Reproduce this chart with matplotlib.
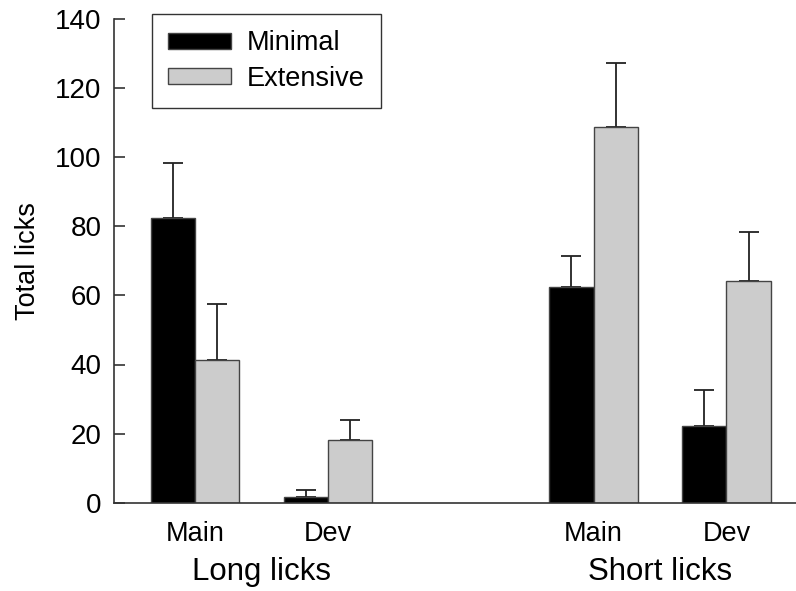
import matplotlib
matplotlib.use("Agg")
import matplotlib.pyplot as plt
import matplotlib.transforms as mtrans
import numpy as np

plt.rcParams['font.family'] = ['Liberation Sans', 'DejaVu Sans']

groups = ["Long licks", "Short licks"]
conditions = ["Main", "Dev", "Main", "Dev"]
group_centers = [0, 3, 9, 12]
series_names = ["Minimal", "Extensive"]
minimal = [82.3, 1.7, 62.3, 22.3]
minimal_err = [15.9, 2.0, 9.1, 10.3]
extensive = [41.3, 18.1, 108.8, 64.2]
extensive_err = [16.3, 5.8, 18.4, 14.2]
yticks = [0, 20, 40, 60, 80, 100, 120, 140]

W, H = 796, 591
fig = plt.figure(figsize=(W / 100, H / 100), dpi=100)
ax = fig.add_axes([114 / W, 1 - 502.7 / H, (796 - 114) / W, (502.7 - 19) / H])

x = np.array(group_centers, dtype=float)
bw = 1.0
edge = '#444444'
ax.bar(x - bw / 2, minimal, bw, color='black', edgecolor=edge, linewidth=1.0,
       label=series_names[0], zorder=2)
ax.bar(x + bw / 2, extensive, bw, color='#cccccc', edgecolor=edge, linewidth=1.0,
       label=series_names[1], zorder=2)
ax.errorbar(x - bw / 2, minimal, yerr=[np.zeros(4), minimal_err], fmt='none',
            ecolor='#222222', elinewidth=1.3, capsize=7, capthick=1.3, zorder=1)
ax.errorbar(x + bw / 2, extensive, yerr=[np.zeros(4), extensive_err], fmt='none',
            ecolor='#222222', elinewidth=1.3, capsize=7, capthick=1.3, zorder=1)

ax.set_xlim(-1.83, 13.57)
ax.set_ylim(0, 140)
ax.set_yticks(yticks)
ax.tick_params(axis='y', direction='in', length=8, width=1.2, color='#333333',
               labelsize=20, pad=9)
ax.set_xticks(x)
ax.set_xticklabels(conditions)
ax.tick_params(axis='x', length=0, labelsize=19.5, pad=13)
for s in ['top', 'right']:
    ax.spines[s].set_visible(False)
for s in ['left', 'bottom']:
    ax.spines[s].set_color('#333333')
    ax.spines[s].set_linewidth(1.2)

ax.set_ylabel("Total licks", fontsize=19.5, labelpad=10)

trans = mtrans.blended_transform_factory(ax.transData, fig.transFigure)
ax.text((x[0] + x[1]) / 2, 1 - 572 / H, groups[0], transform=trans,
        ha='center', va='center', fontsize=22.5)
ax.text((x[2] + x[3]) / 2, 1 - 572 / H, groups[1], transform=trans,
        ha='center', va='center', fontsize=22.5)

leg = ax.legend(loc='upper left', bbox_to_anchor=(152 / W, 1 - 14 / H),
                bbox_transform=fig.transFigure, borderaxespad=0, fontsize=19.5,
                handlelength=2.3, handleheight=0.55, handletextpad=0.6,
                labelspacing=0.35, borderpad=0.6, fancybox=False, framealpha=1)
leg.get_frame().set_edgecolor('#333333')
leg.get_frame().set_linewidth(1.0)

fig.savefig("out.png", dpi=100)
